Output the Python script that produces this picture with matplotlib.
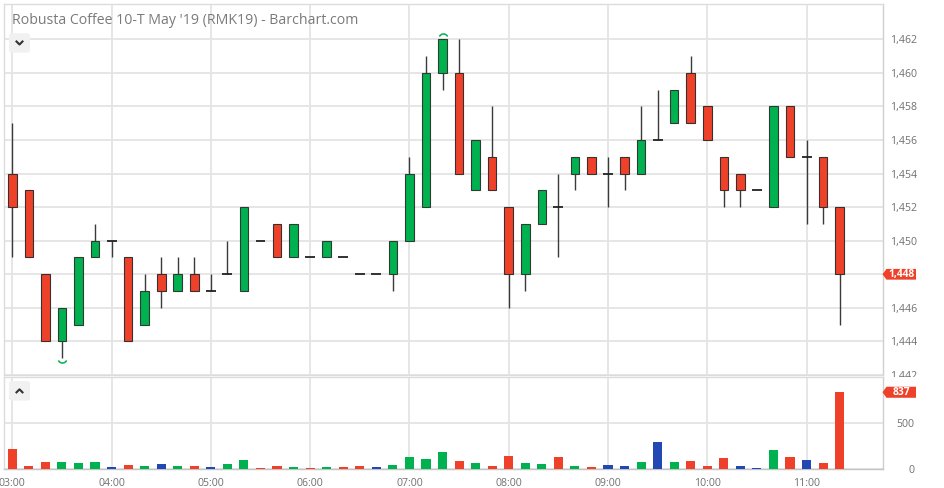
import numpy as np
import matplotlib
matplotlib.use("Agg")
import matplotlib.pyplot as plt
from matplotlib.patches import Polygon, FancyBboxPatch, Rectangle
from matplotlib.path import Path
from matplotlib.lines import Line2D
import matplotlib.transforms as mtransforms

plt.rcParams['font.family'] = ['Open Sans', 'DejaVu Sans']

# ---------------- data ----------------
title = "Robusta Coffee 10-T May '19 (RMK19) - Barchart.com"
times = [f"{h:02d}:{m:02d}" for h in range(3, 12) for m in range(0, 60, 10)][:51]

open_ = [1454, 1453, 1448, 1444, 1445, 1449, 1450, 1449, 1445, 1448,
         1447, 1448, 1447, 1448, 1447, 1450, 1451, 1449, 1449, 1449,
         1449, 1448, 1448, 1448, 1450, 1452, 1460, 1460, 1453, 1455,
         1452, 1448, 1451, 1452, 1454, 1455, 1454, 1455, 1454, 1456,
         1457, 1460, 1458, 1455, 1454, 1453, 1452, 1458, 1455, 1455, 1452]
high = [1457, 1453, 1448, 1446, 1449, 1451, 1450, 1449, 1448, 1449,
        1449, 1449, 1448, 1450, 1452, 1450, 1451, 1451, 1449, 1450,
        1449, 1448, 1448, 1450, 1455, 1461, 1462, 1462, 1456, 1458,
        1452, 1451, 1453, 1454, 1455, 1455, 1455, 1455, 1458, 1459,
        1459, 1461, 1458, 1455, 1454, 1453, 1458, 1458, 1456, 1455, 1452]
low = [1449, 1449, 1444, 1443, 1445, 1449, 1449, 1444, 1445, 1446,
       1447, 1447, 1447, 1448, 1447, 1450, 1449, 1449, 1449, 1449,
       1449, 1448, 1448, 1447, 1450, 1452, 1459, 1454, 1453, 1453,
       1446, 1447, 1451, 1449, 1453, 1454, 1452, 1453, 1454, 1456,
       1457, 1457, 1456, 1452, 1452, 1453, 1452, 1455, 1451, 1451, 1445]
close = [1452, 1449, 1444, 1446, 1449, 1450, 1450, 1444, 1447, 1447,
         1448, 1447, 1447, 1448, 1452, 1450, 1449, 1451, 1449, 1450,
         1449, 1448, 1448, 1450, 1454, 1460, 1462, 1454, 1456, 1453,
         1448, 1451, 1453, 1452, 1455, 1454, 1454, 1454, 1456, 1456,
         1459, 1457, 1456, 1453, 1453, 1453, 1458, 1455, 1455, 1452, 1448]
volume = [221, 40, 83, 83, 65, 83, 25, 47, 40, 58,
          40, 40, 25, 58, 101, 14, 33, 25, 14, 25,
          25, 40, 25, 47, 134, 109, 188, 91, 65, 40,
          145, 65, 58, 134, 40, 25, 47, 40, 83, 301,
          83, 91, 40, 127, 40, 14, 214, 134, 101, 72, 837]
prior_close = 1455
price_ticks = list(range(1442, 1463, 2))
volume_ticks = [0, 500]

# ---------------- style ----------------
GREEN = '#00b14f'
RED = '#ef4129'
BLUE = '#2249b3'
GRID = '#e4e4e4'
TXT = '#707070'
W, H = 945, 488

def fx(x):
    return x / W

def fy(y):
    return 1 - y / H

fig = plt.figure(figsize=(W / 100, H / 100), dpi=100)
fig.patch.set_facecolor('white')

L, R = 4, 882.7
axp = fig.add_axes([fx(L), fy(375), fx(R) - fx(L), fy(4) - fy(375)])
axv = fig.add_axes([fx(L), fy(469.3), fx(R) - fx(L), fy(376.7) - fy(469.3)], sharex=axp)
axv.set_zorder(3)

o = np.array(open_, float)
h = np.array(high, float)
l = np.array(low, float)
c = np.array(close, float)
v = np.array(volume, float)
x = np.arange(len(times))

# ---- candles ----
up = c > o
dn = c < o
dj = c == o
bw = 0.52
axp.vlines(x, l, h, color='#3a3a3a', lw=1.0, zorder=3)
axp.bar(x[up], (c - o)[up], bottom=o[up], width=bw, color=GREEN,
        edgecolor='#2f3a33', linewidth=0.8, zorder=4)
axp.bar(x[dn], (o - c)[dn], bottom=c[dn], width=bw, color=RED,
        edgecolor='#3a2f2f', linewidth=0.8, zorder=4)
axp.hlines(o[dj], x[dj] - 0.3, x[dj] + 0.3, color='#222222', lw=1.3, zorder=4)

# high / low markers (arc paths sit just above / below the point)
ih = int(np.argmax(h))
il = int(np.argmin(l))
arc_up = Path.arc(25, 155)
arc_dn = Path.arc(205, 335)
axp.plot([x[ih]], [h[ih] + 0.1], marker=arc_up, ms=6.5, mfc='none', mec=GREEN, mew=1.1,
         zorder=5, clip_on=False)
axp.plot([x[il]], [l[il]], marker=arc_dn, ms=6.5, mfc='none', mec=GREEN, mew=1.1, zorder=5)

# ---- volume ----
prev = np.concatenate([[prior_close], c[:-1]])
vcol = np.where(c > prev, GREEN, np.where(c < prev, RED, BLUE))
axv.bar(x, v, width=0.55, color=vcol, zorder=3)

# ---- axes styling ----
hours = [i for i, t in enumerate(times) if t.endswith(':00')]
for ax in (axp, axv):
    ax.set_xlim(-0.5, 52.6)
    ax.set_xticks(hours)
    ax.grid(True, color=GRID, lw=1.3, zorder=0)
    ax.set_axisbelow(True)
    for s in ('left', 'top', 'bottom'):
        ax.spines[s].set_color('#dcdcdc')
        ax.spines[s].set_linewidth(1.0)
    ax.spines['right'].set_color('#cfcfcf')
    ax.spines['right'].set_linewidth(1.0)
    ax.yaxis.tick_right()
    ax.tick_params(length=0, labelsize=7.6, labelcolor=TXT)

axp.set_ylim(1442, 1464.1)
axp.set_yticks(price_ticks)
# the last-price tag covers its own tick label, as in the reference
axp.set_yticklabels(["" if t == int(c[-1]) else f"{t:,}" for t in price_ticks])
axp.tick_params(axis='y', pad=5.3)
axp.tick_params(axis='x', labelbottom=False)

axv.set_ylim(0, 1006)
axv.set_yticks(volume_ticks)
axv.set_yticklabels([str(t) for t in volume_ticks])
axv.tick_params(axis='y', pad=22.8)
for lab in axv.get_yticklabels():
    lab.set_ha('right')
axv.spines['bottom'].set_color('#c4c4c4')
axv.set_xticklabels([times[i] for i in hours])
axv.tick_params(axis='x', pad=6)

# cover lower half of the 1,442 label like the reference
fig.patches.append(Rectangle((fx(883), fy(469)), fx(945) - fx(883), fy(376.7) - fy(469),
                             transform=fig.transFigure, facecolor='white',
                             edgecolor='none', zorder=2))

# ---- last value tags ----
def tag(ax, yval, text, half):
    tr = mtransforms.blended_transform_factory(fig.transFigure, ax.transData)
    x0, x1, xp = fx(886.5), fx(916), fx(882.5)
    poly = Polygon([(xp, yval), (x0, yval + half), (x1, yval + half),
                    (x1, yval - half), (x0, yval - half)], closed=True,
                   transform=tr, facecolor=RED, edgecolor='none', clip_on=False, zorder=10)
    ax.add_patch(poly)
    ax.text((x0 + x1) / 2 + 0.0005, yval, text, transform=tr, ha='center', va='center',
            color='white', fontsize=7.4, fontweight='bold', clip_on=False, zorder=11)

tag(axp, c[-1], f"{int(c[-1]):,}", 0.32)
tag(axv, v[-1], f"{int(v[-1])}", 60)

# ---- title ----
fig.text(fx(12.5), fy(20), title, ha='left', va='center', fontsize=10.2, color='#7a7a7a')

# ---- buttons ----
for (bx0, by0, bx1, by1, down) in [(9, 33.3, 30, 52.7, True), (9, 381, 30, 400.7, False)]:
    btn = FancyBboxPatch((fx(bx0), fy(by1)), fx(bx1) - fx(bx0), fy(by0) - fy(by1),
                         boxstyle='round,pad=0,rounding_size=0.004',
                         transform=fig.transFigure, facecolor='#f1f1f1',
                         edgecolor='none', zorder=20)
    fig.patches.append(btn)
    cxp, cyp = (bx0 + bx1) / 2, (by0 + by1) / 2
    if down:
        pts = [(cxp - 3, cyp - 1.5), (cxp, cyp + 1.5), (cxp + 3, cyp - 1.5)]
    else:
        pts = [(cxp - 3, cyp + 1.5), (cxp, cyp - 1.5), (cxp + 3, cyp + 1.5)]
    fig.lines.append(Line2D([fx(p[0]) for p in pts], [fy(p[1]) for p in pts],
                            transform=fig.transFigure, color='#333333', lw=1.5, zorder=21))

fig.savefig('out.png', dpi=100, facecolor='white')
